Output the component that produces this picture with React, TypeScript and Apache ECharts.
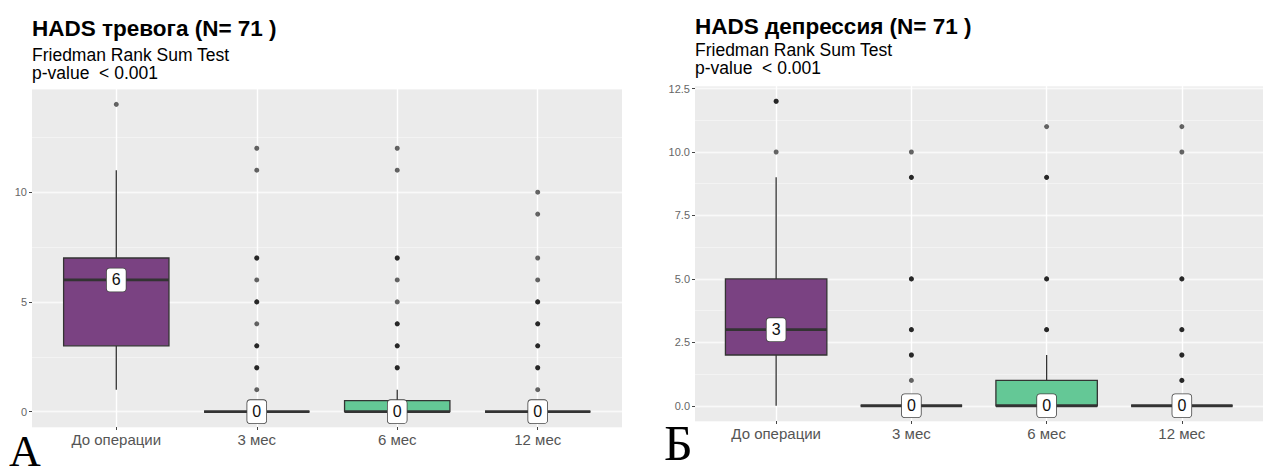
import React, { useEffect, useRef } from 'react';
import * as echarts from 'echarts';

// ---------- data ----------
const categories = ['До операции', '3 мес', '6 мес', '12 мес'];
const boxColors = ['#7a4282', '#4a8c8c', '#64c896', '#9bd35a'];

// Panel А: HADS тревога
const anxLower = [1, 0, 0, 0];
const anxQ1 = [3, 0, 0, 0];
const anxMedian = [6, 0, 0, 0];
const anxQ3 = [7, 0, 0.5, 0];
const anxUpper = [11, 0, 1, 0];
const anxOutliers = [
  [14],
  [12, 11, 7, 7, 6, 5, 5, 4, 3, 3, 2, 2, 1],
  [12, 11, 7, 7, 6, 5, 4, 4, 3, 3, 2, 2],
  [10, 9, 7, 6, 5, 5, 4, 4, 3, 3, 2, 2, 1],
];
const anxTicks = [0, 5, 10];

// Panel Б: HADS депрессия
const depLower = [0, 0, 0, 0];
const depQ1 = [2, 0, 0, 0];
const depMedian = [3, 0, 0, 0];
const depQ3 = [5, 0, 1, 0];
const depUpper = [9, 0, 2, 0];
const depOutliers = [
  [12, 12, 10],
  [10, 9, 9, 5, 5, 3, 3, 2, 2, 1],
  [11, 9, 9, 5, 5, 3, 3],
  [11, 10, 5, 5, 3, 3, 2, 2, 1, 1],
];
const depTicks = [0, 2.5, 5, 7.5, 10, 12.5];

const titleA = 'HADS тревога (N= 71 )';
const titleB = 'HADS депрессия (N= 71 )';
const subtitle1 = 'Friedman Rank Sum Test';
const subtitle2 = 'p-value  < 0.001';

// ---------- styling ----------
const BOX_W = 0.75;
const STROKE = '#333333';
const FONT = 'Liberation Sans, Arial, sans-serif';

const renderBox = (params: any, api: any) => {
  const x = api.value(0);
  const lo = api.value(1);
  const q1 = api.value(2);
  const med = api.value(3);
  const q3 = api.value(4);
  const hi = api.value(5);
  const w = api.size([BOX_W, 0])[0];
  const [cx, yLo] = api.coord([x, lo]);
  const yQ1 = api.coord([x, q1])[1];
  const yMed = api.coord([x, med])[1];
  const yQ3 = api.coord([x, q3])[1];
  const yHi = api.coord([x, hi])[1];
  return {
    type: 'group',
    children: [
      { type: 'line', shape: { x1: cx, y1: yQ3, x2: cx, y2: yHi }, style: { stroke: STROKE, lineWidth: 1.3 } },
      { type: 'line', shape: { x1: cx, y1: yLo, x2: cx, y2: yQ1 }, style: { stroke: STROKE, lineWidth: 1.3 } },
      {
        type: 'rect',
        shape: { x: cx - w / 2, y: yQ3, width: w, height: yQ1 - yQ3 },
        style: { fill: boxColors[x], stroke: STROKE, lineWidth: 1.3 },
      },
      {
        type: 'line',
        shape: { x1: cx - w / 2, y1: yMed, x2: cx + w / 2, y2: yMed },
        style: { stroke: STROKE, lineWidth: 2.8 },
      },
      {
        type: 'text',
        z2: 10,
        style: {
          text: String(med),
          x: cx,
          y: yMed,
          align: 'center',
          verticalAlign: 'middle',
          font: '16px ' + FONT,
          fill: '#111',
          backgroundColor: '#ffffff',
          borderColor: '#444',
          borderWidth: 0.8,
          borderRadius: 3,
          padding: [4, 5, 3, 5],
        },
      },
    ],
  };
};

function panelSeries(
  g: number,
  lower: number[],
  q1: number[],
  median: number[],
  q3: number[],
  upper: number[],
  outliers: number[][]
) {
  return [
    {
      type: 'scatter',
      xAxisIndex: g,
      yAxisIndex: g * 2,
      symbol: 'circle',
      symbolSize: 5,
      itemStyle: { color: '#000', opacity: 0.6 },
      data: outliers.flatMap((vals, i) => vals.map((v) => [i, v])),
      z: 3,
    },
    {
      type: 'custom',
      xAxisIndex: g,
      yAxisIndex: g * 2,
      renderItem: renderBox,
      encode: { x: 0, y: [1, 2, 3, 4, 5] },
      data: categories.map((_, i) => [i, lower[i], q1[i], median[i], q3[i], upper[i]]),
      z: 4,
    },
  ];
}

function xAxisFor(g: number) {
  return {
    type: 'value',
    gridIndex: g,
    position: 'bottom',
    min: -0.6,
    max: 3.6,
    minInterval: 1,
    maxInterval: 1,
    axisLine: { show: false, onZero: false },
    axisTick: { show: true, length: 3, customValues: [0, 1, 2, 3], lineStyle: { color: '#444', width: 1 } },
    axisLabel: {
      customValues: [0, 1, 2, 3],
      formatter: (v: number) => (Math.abs(v - Math.round(v)) < 1e-6 ? categories[Math.round(v)] ?? '' : ''),
      margin: 5,
      fontSize: 15,
      fontFamily: FONT,
      color: '#555',
    },
    splitLine: { show: true, lineStyle: { color: '#ffffff', width: 1.4 } },
  };
}

function yAxesFor(g: number, min: number, max: number, step: number, ticks: number[], digits: number) {
  return [
    {
      type: 'value',
      gridIndex: g,
      position: 'left',
      min,
      max,
      minInterval: step,
      maxInterval: step,
      axisLine: { show: false, onZero: false },
      axisTick: { show: true, length: 3, customValues: ticks, lineStyle: { color: '#444', width: 1 } },
      axisLabel: {
        customValues: ticks,
        formatter: (v: number) => v.toFixed(digits),
        margin: 5,
        fontSize: 11,
        fontFamily: FONT,
        color: '#666',
      },
      splitLine: { show: true, lineStyle: { color: '#ffffff', width: 1.4 } },
    },
    {
      type: 'value',
      gridIndex: g,
      position: 'right',
      min,
      max,
      minInterval: step / 2,
      maxInterval: step / 2,
      axisLine: { show: false, onZero: false },
      axisTick: { show: false },
      axisLabel: { show: false },
      splitLine: { show: true, lineStyle: { color: '#f7f7f7', width: 0.7 } },
    },
  ];
}

function textEl(text: string, x: number, y: number, font: string) {
  return {
    type: 'text',
    x,
    y,
    style: { text, font, fill: '#000', align: 'left', verticalAlign: 'middle' },
  };
}

export default function App() {
  const ref = useRef<HTMLDivElement>(null);

  useEffect(() => {
    if (!ref.current) return;
    const chart = echarts.init(ref.current, null, { renderer: 'svg' });
    const option: any = {
      animation: false,
      backgroundColor: '#ffffff',
      grid: [
        { left: 32, top: 89, width: 590, height: 338, show: true, backgroundColor: '#ebebeb', borderWidth: 0 },
        { left: 695, top: 86, width: 580, height: 335, show: true, backgroundColor: '#ebebeb', borderWidth: 0 },
      ],
      xAxis: [xAxisFor(0), xAxisFor(1)],
      yAxis: [
        ...yAxesFor(0, -0.7, 14.7, 5, anxTicks, 0),
        ...yAxesFor(1, -0.6, 12.6, 2.5, depTicks, 1),
      ],
      series: [
        ...panelSeries(0, anxLower, anxQ1, anxMedian, anxQ3, anxUpper, anxOutliers),
        ...panelSeries(1, depLower, depQ1, depMedian, depQ3, depUpper, depOutliers),
      ],
      graphic: [
        textEl(titleA, 32, 28.5, 'bold 22.5px ' + FONT),
        textEl(subtitle1, 32, 55.2, '17.5px ' + FONT),
        textEl(subtitle2, 32, 73.2, '17.5px ' + FONT),
        textEl(titleB, 695, 26.5, 'bold 22.5px ' + FONT),
        textEl(subtitle1, 695, 50.2, '17.5px ' + FONT),
        textEl(subtitle2, 695, 68.2, '17.5px ' + FONT),
        textEl('А', 9, 451, '44px Liberation Serif, serif'),
        textEl('Б', 664, 443, '50px Liberation Serif, serif'),
      ],
    };
    chart.setOption(option);
    return () => chart.dispose();
  }, []);

  return (
    <div
      ref={ref}
      style={{ position: 'fixed', left: 0, top: 0, width: 1263, height: 476, background: '#fff' }}
    />
  );
}
